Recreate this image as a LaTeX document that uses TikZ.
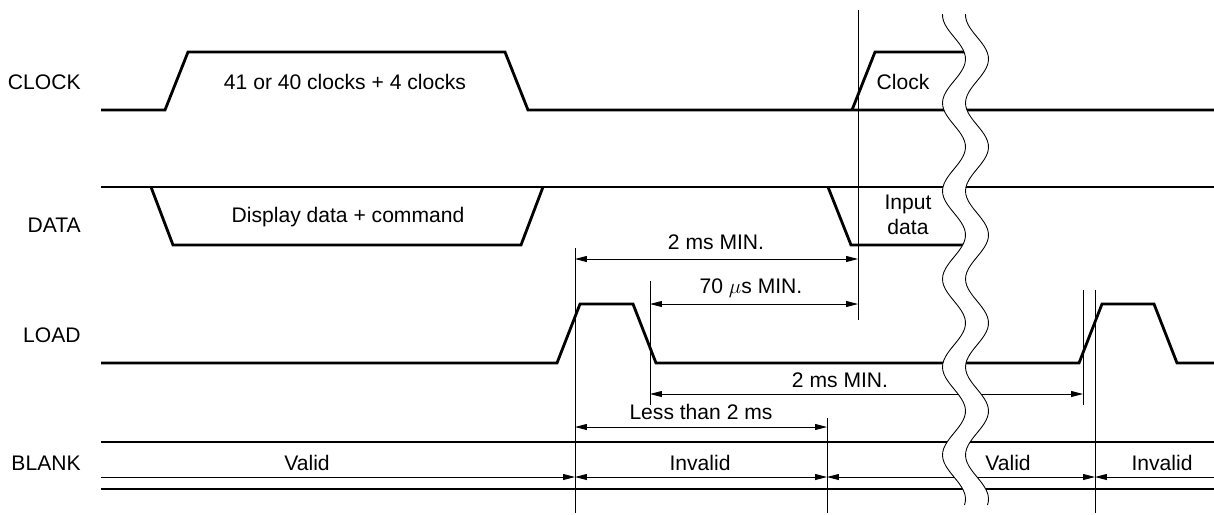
\documentclass[tikz,border=0pt]{standalone}
\usepackage{fontspec}
\setmainfont{Liberation Sans}
\usetikzlibrary{arrows.meta}

\begin{document}
\begin{tikzpicture}[x=0.2mm, y=-0.2mm, >={Triangle[length=6.8pt,width=3.4pt]},
		sig/.style={line width=1.6pt, line join=miter},
		guide/.style={line width=0.5pt},
		dim/.style={line width=0.5pt},
		txt/.style={font=\fontsize{12}{14.5}\selectfont, inner sep=0pt, align=center}]

		\useasboundingbox (0,0) rectangle (1214,514);

		% Signals
		\draw[sig] (101,110) -- (165,110) -- (188,52) -- (505,52) -- (528,110) -- (1214,110);
		\draw[sig] (852,110) -- (875,52) -- (970,52);
		\draw[sig] (101,187) -- (1214,187);
		\draw[sig] (151,187) -- (173,245) -- (521,245) -- (543,187);
		\draw[sig] (828,187) -- (851,245) -- (970,245);
		\draw[sig] (101,363) -- (557,363) -- (580,304) -- (633,304) -- (656,363) -- (1079,363) -- (1102,304) -- (1154,304) -- (1177,363) -- (1214,363);
		\draw[sig] (101,442) -- (1214,442);
		\draw[sig] (101,489) -- (1214,489);

		% Markers
		\coordinate (mA) at (575,248);  \coordinate (mAend) at (575,513);
		\coordinate (mB) at (650,281);  \coordinate (mBend) at (650,405);
		\coordinate (mC) at (827,418);  \coordinate (mCend) at (827,513);
		\coordinate (mD) at (858,10);   \coordinate (mDend) at (858,320);
		\coordinate (mE) at (1083,290); \coordinate (mEend) at (1083,405);
		\coordinate (mF) at (1095,290); \coordinate (mFend) at (1095,513);
		\foreach \m in {mA,mB,mC,mD,mE,mF}
			\draw[guide] (\m) -- (\m end);

		% Arrows
		\coordinate (lowA) at (575,259);  \coordinate (lowD) at (858,259);
		\coordinate (usB) at (650,304);   \coordinate (usD) at (858,304);
		\coordinate (gapB) at (650,394);  \coordinate (gapE) at (1083,394);
		\coordinate (lessA) at (575,427); \coordinate (lessC) at (827,427);
		\coordinate (blkL) at (101,477);  \coordinate (blkA) at (575,477);
		\coordinate (blkC) at (827,477);  \coordinate (blkF) at (1095,477);
		\coordinate (blkR) at (1214,477);
		\draw[dim, <->] (lowA) -- (lowD);
		\draw[dim, <->] (usB) -- (usD);
		\draw[dim, <->] (gapB) -- (gapE);
		\draw[dim, <->] (lessA) -- (lessC);
		\draw[dim, ->] (blkL) -- (blkA);
		\draw[dim, <->] (blkA) -- (blkC);
		\draw[dim, <->] (blkC) -- (blkF);
		\draw[dim, <-] (blkF) -- (blkR);

		% Break
		\fill[white] plot[domain=14:505, samples=140, smooth] ({954-11.5*cos(4.0909*(\x-15))}, \x)
			-- plot[domain=505:14, samples=140, smooth] ({977-11.5*cos(4.0909*(\x-15))}, \x) -- cycle;
		\draw[line width=0.5pt] plot[domain=14:505, samples=140, smooth] ({954-11.5*cos(4.0909*(\x-15))}, \x);
		\draw[line width=0.5pt] plot[domain=14:505, samples=140, smooth] ({977-11.5*cos(4.0909*(\x-15))}, \x);

		% Names
		\node[txt, anchor=east] (clockName) at (81,82)  {CLOCK};
		\node[txt, anchor=east] (dataName)  at (81,225) {DATA};
		\node[txt, anchor=east] (loadName)  at (81,335) {LOAD};
		\node[txt, anchor=east] (blankName) at (81,463) {BLANK};

		% Text
		\node[txt] (clockBurst) at (345,82)  {41 or 40 clocks + 4 clocks};
		\node[txt] (clockNext)  at (903,82)  {Clock};
		\node[txt] (dataBurst)  at (348,217) {Display data + command};
		\node[txt] (dataNext)   at (908,215) {Input\\data};
		\node[txt] (lowText)    at (716,242) {2 ms MIN.};
		\node[txt] (usText)     at (751,288) {70 $\mu$s MIN.};
		\node[txt] (gapText)    at (840,380) {2 ms MIN.};
		\node[txt] (lessText)   at (701,412) {Less than 2 ms};
		\node[txt] (validA)     at (307,463) {Valid};
		\node[txt] (invalidA)   at (700,463) {Invalid};
		\node[txt] (validB)     at (1008,463) {Valid};
		\node[txt] (invalidB)   at (1162,463) {Invalid};

	\end{tikzpicture}
\end{document}
